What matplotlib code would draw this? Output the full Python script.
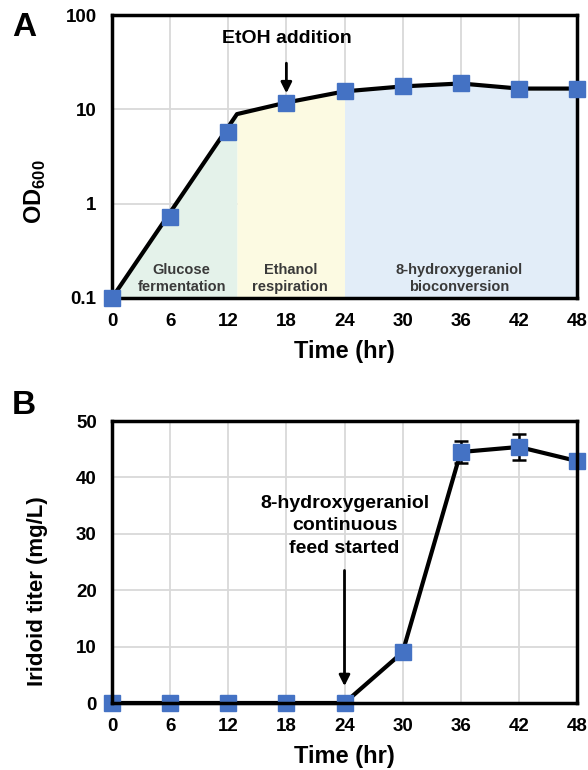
import numpy as np
import matplotlib
matplotlib.use("Agg")
import matplotlib.pyplot as plt

plt.rcParams['font.family'] = ['Liberation Sans', 'DejaVu Sans']
plt.rcParams['font.weight'] = 'bold'
plt.rcParams['mathtext.fontset'] = 'custom'
plt.rcParams['mathtext.rm'] = 'Liberation Sans:bold'
plt.rcParams['mathtext.bf'] = 'Liberation Sans:bold'

# panel A: OD600 over time
time_hr = [0, 6, 12, 18, 24, 30, 36, 42, 48]
od600 = [0.1, 0.72, 5.8, 11.8, 15.5, 17.5, 18.8, 16.6, 16.6]
# line vertices (line is drawn with a kink at ~13 hr)
line_t = [0, 12.9, 18, 24, 30, 36, 42, 48]
line_od = [0.1, 8.9, 11.8, 15.5, 17.5, 18.8, 16.6, 16.6]
phase_edges = [0, 12.9, 24, 48]
phase_names = ["Glucose\nfermentation", "Ethanol\nrespiration", "8-hydroxygeraniol\nbioconversion"]
phase_label_t = [7.2, 18.4, 35.8]
phase_colors = ["#e4f2ea", "#fcfae2", "#e2edf8"]

# panel B: iridoid titer
titer = [0, 0, 0, 0, 0, 9.0, 44.5, 45.4, 42.9]
titer_err = [0, 0, 0, 0, 0, 0, 2.0, 2.3, 0]

xticks = [0, 6, 12, 18, 24, 30, 36, 42, 48]
blue = "#4472c4"
grid_c = "#d9d9d9"

fig = plt.figure(figsize=(5.88, 7.70), dpi=100)
axA = fig.add_axes([112/588, 1 - 298/770, 465/588, 283/770])
axB = fig.add_axes([112/588, 1 - 703/770, 465/588, 282/770])


def style(ax):
    ax.set_xlim(0, 48)
    ax.set_xticks(xticks)
    ax.grid(True, color=grid_c, linewidth=1.3, zorder=0)
    ax.set_axisbelow(True)
    ax.tick_params(length=0, labelsize=13.5, pad=11)
    for lab in ax.get_xticklabels() + ax.get_yticklabels():
        lab.set_fontweight('bold')
    for s in ax.spines.values():
        s.set_linewidth(2.5)
        s.set_zorder(5)
    ax.set_xlabel("Time (hr)", fontsize=17, fontweight='bold', labelpad=7)


# ---- panel A
axA.set_yscale('log')
axA.set_ylim(0.1, 100)
axA.set_yticks([0.1, 1, 10, 100])
axA.set_yticklabels(["0.1", "1", "10", "100"])
axA.minorticks_off()
style(axA)

lt = np.array(line_t)
lo = np.array(line_od)
for i in range(3):
    t0, t1 = phase_edges[i], phase_edges[i + 1]
    tt = np.linspace(t0, t1, 200)
    yy = 10 ** np.interp(tt, lt, np.log10(lo))
    axA.fill_between(tt, 0.1, yy, color=phase_colors[i], linewidth=0, zorder=1)
    axA.text(phase_label_t[i], 0.162, phase_names[i], ha='center', va='center',
             fontsize=10.5, fontweight='bold', color='#3a3a3a', linespacing=1.25, zorder=3)

axA.plot(line_t, line_od, color='black', linewidth=3, zorder=3, clip_on=False)
axA.plot(time_hr, od600, linestyle='none', marker='s', markersize=12,
         color=blue, zorder=6, clip_on=False)
axA.annotate("EtOH addition", xy=(18, 14.8), xytext=(18, 57),
             ha='center', va='center', fontsize=14, fontweight='bold',
             arrowprops=dict(arrowstyle='-|>', color='black', lw=2,
                             mutation_scale=16, shrinkA=10, shrinkB=0))
axA.set_ylabel("OD$_{600}$", fontsize=17, fontweight='bold')
axA.yaxis.set_label_coords(-0.138, 0.375)

# ---- panel B
axB.set_ylim(0, 50)
axB.set_yticks([0, 10, 20, 30, 40, 50])
style(axB)
axB.errorbar(time_hr, titer, yerr=titer_err, color='black', linewidth=3,
             marker='s', markersize=12, markerfacecolor=blue, markeredgecolor=blue,
             ecolor='black', elinewidth=1.8, capsize=5, capthick=1.8,
             zorder=4, clip_on=False)
axB.text(24, 31.4, "8-hydroxygeraniol\ncontinuous\nfeed started", ha='center',
         va='center', fontsize=14, fontweight='bold', linespacing=1.4)
axB.annotate("", xy=(24, 3.0), xytext=(24, 23.5),
             arrowprops=dict(arrowstyle='-|>', color='black', lw=2,
                             mutation_scale=16, shrinkA=0, shrinkB=0))
axB.set_ylabel("Iridoid titer (mg/L)", fontsize=16, fontweight='bold')
axB.yaxis.set_label_coords(-0.137, 0.395)

fig.text(12/588, 1 - 28/770, "A", fontsize=24, fontweight='bold', ha='left', va='center')
fig.text(12/588, 1 - 405/770, "B", fontsize=24, fontweight='bold', ha='left', va='center')

fig.savefig("out.png", dpi=100)
